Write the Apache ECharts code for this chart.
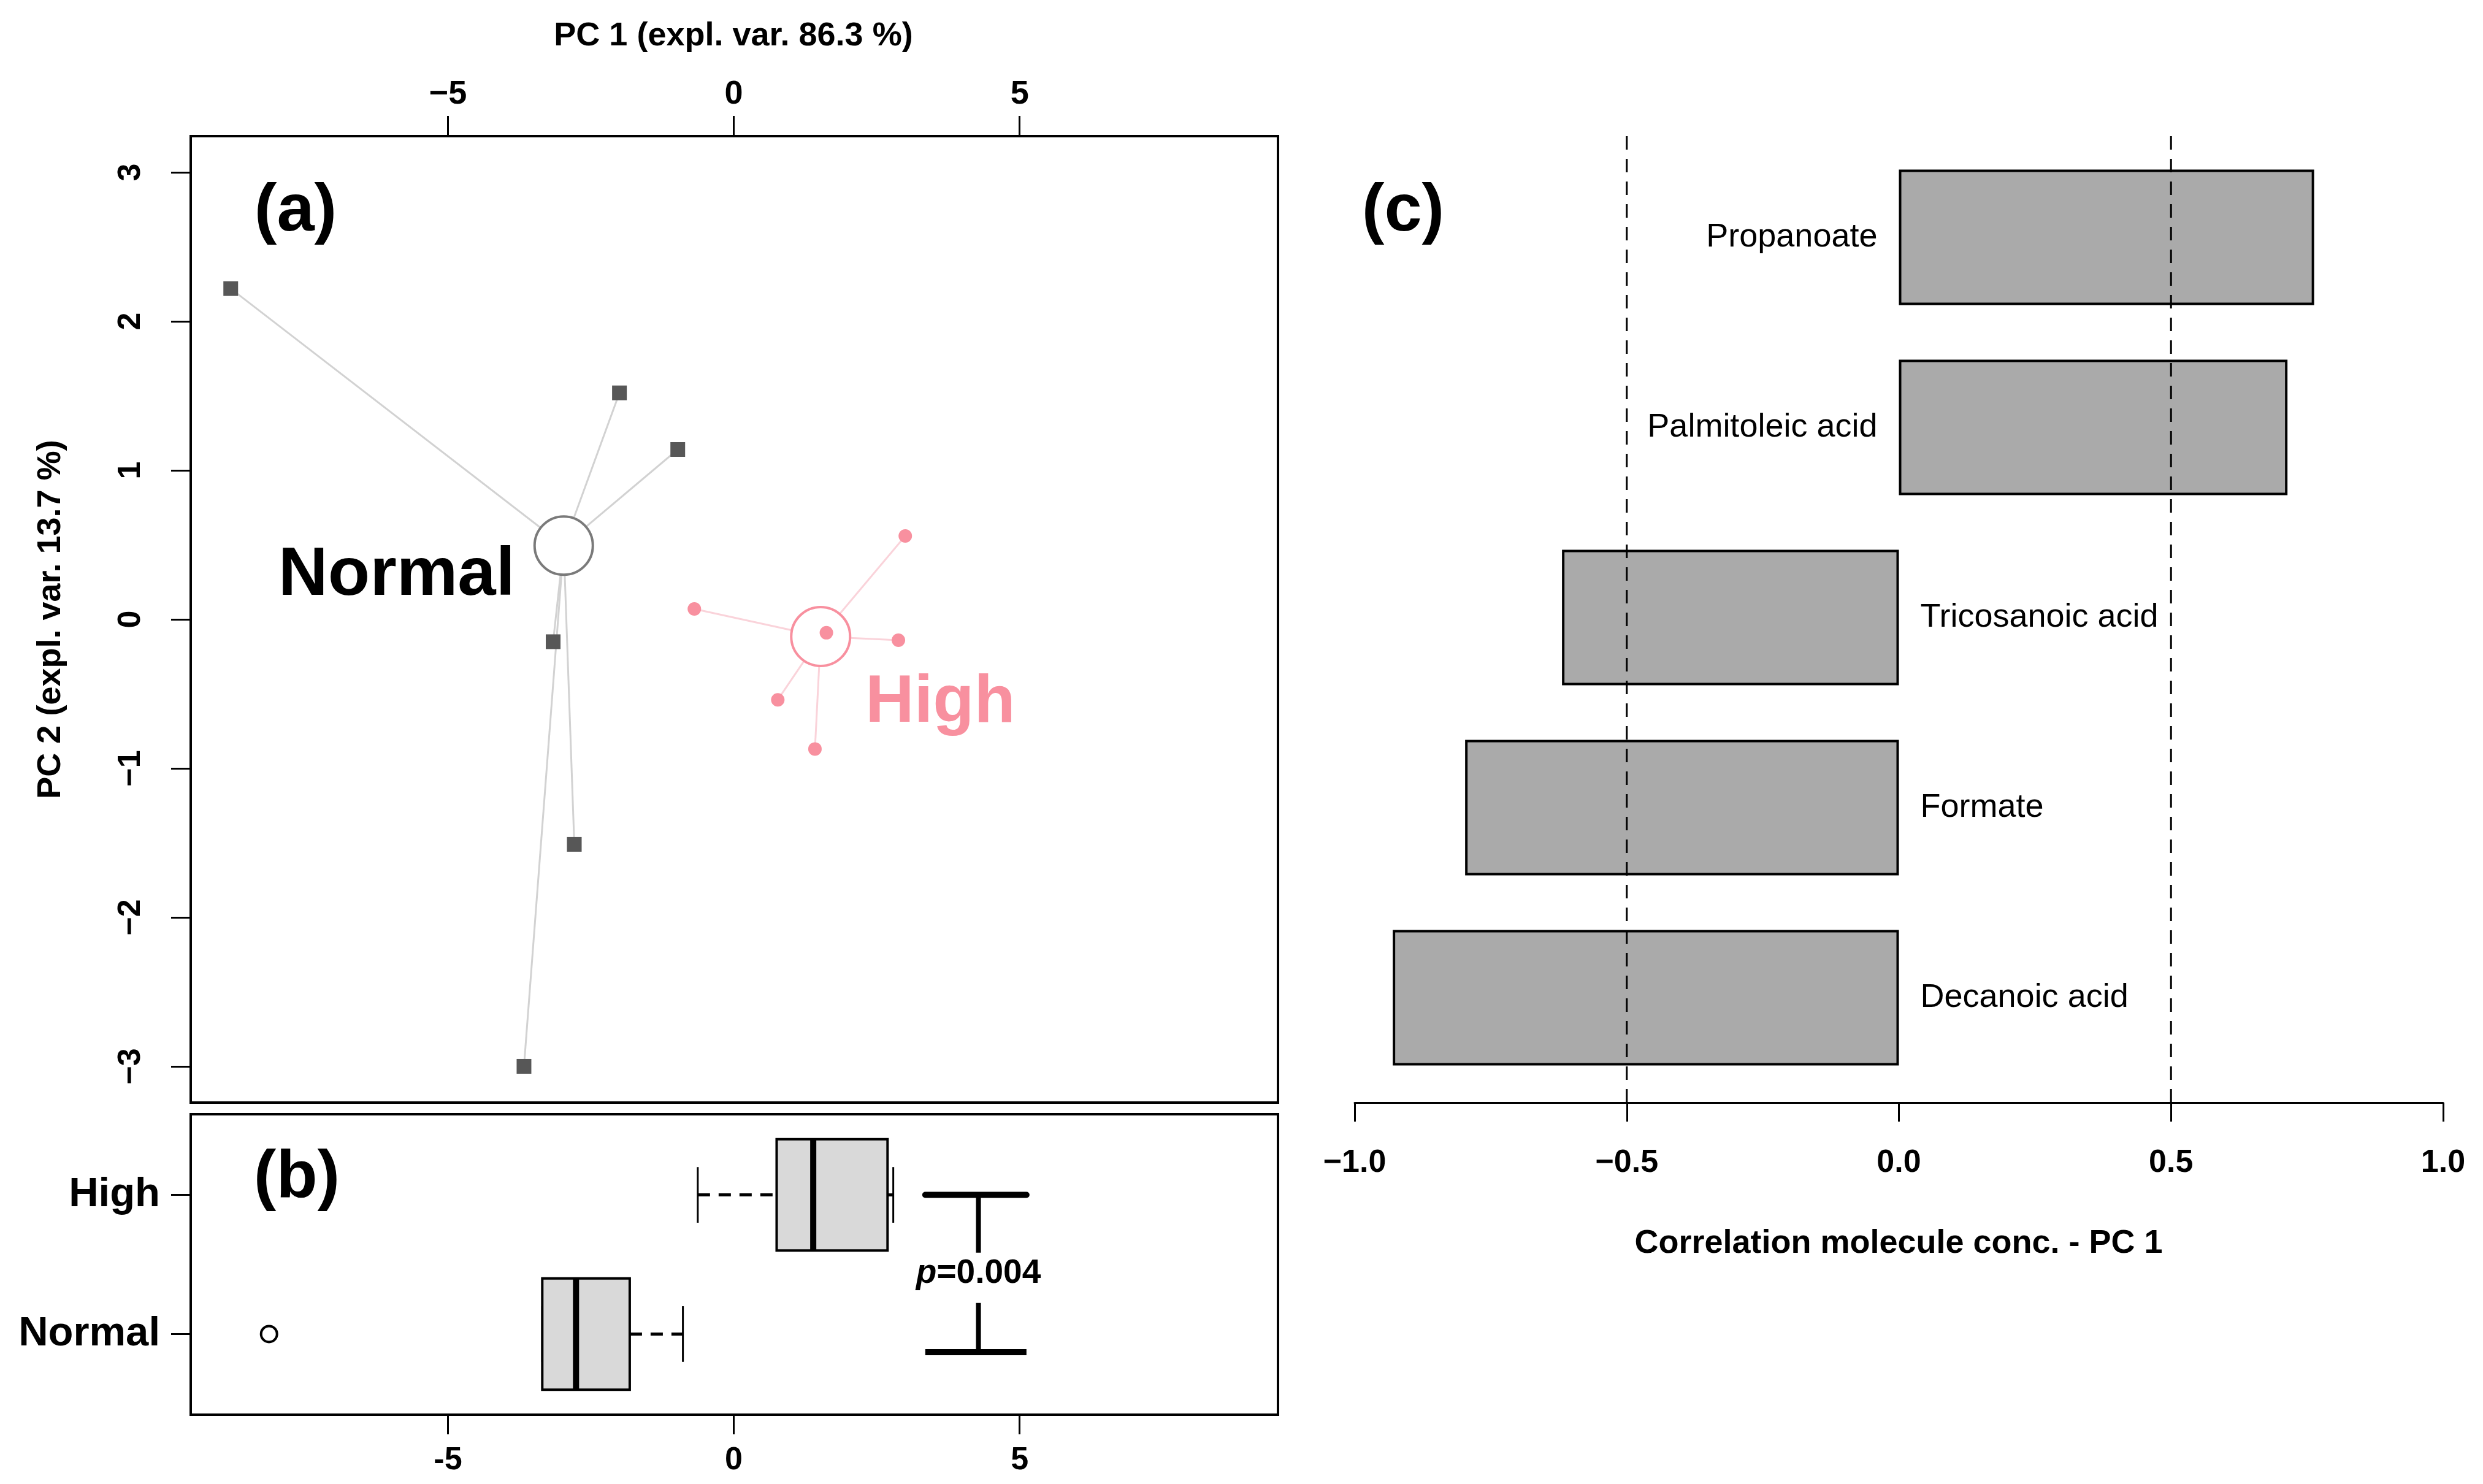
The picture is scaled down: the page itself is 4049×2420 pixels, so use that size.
<!DOCTYPE html>
<html><head><meta charset="utf-8">
<script src="https://cdn.jsdelivr.net/npm/echarts@6/dist/echarts.min.js"></script>
<style>html,body{margin:0;padding:0;background:#fff}#c{width:4049px;height:2420px}</style>
</head><body><div id="c"></div><script>
// ---------- Panel (a): PCA scores ----------
const normalPC1 = [-8.80, -2.00, -0.98, -3.16, -2.79, -3.67];
const normalPC2 = [2.22, 1.52, 1.14, -0.15, -1.51, -3.00];
const highPC1 = [3.00, -0.69, 1.62, 2.88, 0.77, 1.42];
const highPC2 = [0.56, 0.07, -0.09, -0.14, -0.54, -0.87];
const pcaTicksX = [-5, 0, 5];
const pcaTicksY = [-3, -2, -1, 0, 1, 2, 3];
const pcaTitleX = 'PC 1 (expl. var. 86.3 %)';
const pcaTitleY = 'PC 2 (expl. var. 13.7 %)';
// ---------- Panel (b): boxplot of PC 1 ----------
const boxGroups = ['Normal', 'High'];
const boxMin = [-3.35, -0.63];
const boxQ1 = [-3.35, 0.75];
const boxMedian = [-2.76, 1.39];
const boxQ3 = [-1.82, 2.69];
const boxMax = [-0.89, 2.79];
const boxOutlierX = [-8.13];
const boxOutlierGroup = ['Normal'];
const pBracketX = [3.35, 4.28, 5.12];
const pBracketY = [2.0, 0.87];
const pValue = '0.004';
// ---------- Panel (c): correlations ----------
const molecules = ['Propanoate', 'Palmitoleic acid', 'Tricosanoic acid', 'Formate', 'Decanoic acid'];
const correlations = [0.763, 0.714, -0.619, -0.797, -0.930];
const corrThresholds = [-0.5, 0.5];
const corrTitle = 'Correlation molecule conc. - PC 1';

const FF = '"Liberation Sans", Arial, sans-serif';
const PINK = '#F8909F';
const minus = v => (v < 0 ? '\u2212' : '') + Math.abs(v);
const minus1 = v => (v < 0 ? '\u2212' : '') + Math.abs(v).toFixed(1);
const median = arr => { const s = arr.slice().sort((a, b) => a - b); const n = s.length; return n % 2 ? s[(n - 1) / 2] : (s[n / 2 - 1] + s[n / 2]) / 2; };

const normalPts = normalPC1.map((x, i) => [x, normalPC2[i]]);
const highPts = highPC1.map((x, i) => [x, highPC2[i]]);
const normalCen = [median(normalPC1), median(normalPC2)];
const highCen = [median(highPC1), median(highPC2)];

const chart = echarts.init(document.getElementById('c'), null, { renderer: 'canvas' });

const tickStyle = { show: true, lineStyle: { color: '#000', width: 3 } };
const noLine = { show: false, onZero: false };
const boldLabel = (size) => ({ fontFamily: FF, fontWeight: 'bold', fontSize: size, color: '#000' });
const txt = (text, x, y, size, rot) => ({ type: 'text', x: x, y: y, rotation: rot || 0,
  style: { text: text, font: 'bold ' + size + 'px ' + FF, fill: '#000', align: 'center', verticalAlign: 'middle', textAlign: 'center', textVerticalAlign: 'middle' } });

const option = {
  animation: false,
  backgroundColor: '#fff',
  grid: [
    { left: 311, top: 222, width: 1773, height: 1576, show: true, borderColor: '#000', borderWidth: 4, backgroundColor: 'transparent' },
    { left: 311, top: 1817, width: 1773, height: 490, show: true, borderColor: '#000', borderWidth: 4, backgroundColor: 'transparent' },
    { left: 2209, top: 232, width: 1775, height: 1550 },
    { left: 2209, top: 219, width: 1775, height: 1579 }
  ],
  xAxis: [
    { gridIndex: 0, type: 'value', position: 'top', min: -9.5, max: 9.52,
      axisLine: noLine, splitLine: { show: false },
      axisTick: Object.assign({ customValues: pcaTicksX, length: 33 }, tickStyle),
      axisLabel: Object.assign({ customValues: pcaTicksX, margin: 41, formatter: minus }, boldLabel(54)) },
    { gridIndex: 1, type: 'value', position: 'bottom', min: -9.5, max: 9.52,
      axisLine: noLine, splitLine: { show: false },
      axisTick: Object.assign({ customValues: pcaTicksX, length: 32 }, tickStyle),
      axisLabel: Object.assign({ customValues: pcaTicksX, margin: 49, formatter: v => String(v) }, boldLabel(52)) },
    { gridIndex: 2, type: 'value', min: -1, max: 1, show: false, axisLine: noLine },
    { gridIndex: 3, type: 'value', position: 'bottom', min: -1, max: 1, interval: 0.5,
      axisLine: { show: true, onZero: false, lineStyle: { color: '#000', width: 3 } }, splitLine: { show: false },
      axisTick: Object.assign({ length: 31 }, tickStyle),
      axisLabel: Object.assign({ margin: 73, formatter: minus1, showMinLabel: true, showMaxLabel: true }, boldLabel(52)) }
  ],
  yAxis: [
    { gridIndex: 0, type: 'value', position: 'left', min: -3.243, max: 3.243,
      axisLine: noLine, splitLine: { show: false },
      axisTick: Object.assign({ customValues: pcaTicksY, length: 32 }, tickStyle),
      axisLabel: Object.assign({ customValues: pcaTicksY, margin: 71, rotate: 90, formatter: minus }, boldLabel(52)) },
    { gridIndex: 1, type: 'value', position: 'left', min: 0.42, max: 2.58,
      axisLine: noLine, splitLine: { show: false },
      axisTick: Object.assign({ customValues: [1, 2], length: 32 }, tickStyle),
      axisLabel: Object.assign({ customValues: [1, 2], margin: 50, formatter: v => boxGroups[Math.round(v) - 1] }, boldLabel(67)) },
    { gridIndex: 2, type: 'category', data: molecules, inverse: true, show: false, axisLine: noLine },
    { gridIndex: 3, type: 'value', min: 0, max: 1, show: false, axisLine: noLine }
  ],
  graphic: [
    txt(pcaTitleX, 1196, 59, 54),
    txt(pcaTitleY, 83, 1010, 54, Math.PI / 2),
    txt(corrTitle, 3096, 2028, 54),
    txt('(a)', 482, 346, 110),
    txt('(b)', 484, 1922, 110),
    txt('(c)', 2288, 346, 110)
  ],
  series: [
    // spider lines
    { type: 'lines', coordinateSystem: 'cartesian2d', xAxisIndex: 0, yAxisIndex: 0, z: 1,
      lineStyle: { color: '#d2d2d2', width: 3, opacity: 1 },
      data: normalPts.map(p => ({ coords: [normalCen, p] })) },
    { type: 'lines', coordinateSystem: 'cartesian2d', xAxisIndex: 0, yAxisIndex: 0, z: 1,
      lineStyle: { color: '#FAD3DA', width: 3, opacity: 1 },
      data: highPts.map(p => ({ coords: [highCen, p] })) },
    // centroids
    { type: 'scatter', xAxisIndex: 0, yAxisIndex: 0, z: 2, symbol: 'circle', symbolSize: 95,
      itemStyle: { color: '#fff', borderColor: '#7a7a7a', borderWidth: 4, opacity: 1 },
      label: { show: true, formatter: boxGroups[0], position: 'left', distance: 30, offset: [0, 49], fontFamily: FF, fontWeight: 'bold', fontSize: 112, color: '#000', opacity: 1 },
      data: [normalCen] },
    { type: 'scatter', xAxisIndex: 0, yAxisIndex: 0, z: 2, symbol: 'circle', symbolSize: 96,
      itemStyle: { color: '#fff', borderColor: PINK, borderWidth: 4, opacity: 1 },
      label: { show: true, formatter: boxGroups[1], position: 'right', distance: 23, offset: [0, 109], fontFamily: FF, fontWeight: 'bold', fontSize: 110, color: PINK, opacity: 1 },
      data: [highCen] },
    // points
    { type: 'scatter', xAxisIndex: 0, yAxisIndex: 0, z: 3, symbol: 'rect', symbolSize: 24,
      itemStyle: { color: '#575757', opacity: 1 }, data: normalPts },
    { type: 'scatter', xAxisIndex: 0, yAxisIndex: 0, z: 3, symbol: 'circle', symbolSize: 22,
      itemStyle: { color: PINK, opacity: 1 }, data: highPts },
    // boxplot (R style)
    { type: 'custom', xAxisIndex: 1, yAxisIndex: 1, z: 3,
      encode: { x: [1, 2, 3, 4, 5], y: 0 },
      data: boxGroups.map((g, i) => [i + 1, boxMin[i], boxQ1[i], boxMedian[i], boxQ3[i], boxMax[i]]),
      renderItem: (params, api) => {
        const pos = api.value(0);
        const pMin = api.coord([api.value(1), pos]);
        const pQ1 = api.coord([api.value(2), pos]);
        const pMd = api.coord([api.value(3), pos]);
        const pQ3 = api.coord([api.value(4), pos]);
        const pMax = api.coord([api.value(5), pos]);
        const half = api.size([0, 0.4])[1];
        const st = half / 2;
        const cy = pMd[1];
        const ch = [
          { type: 'line', shape: { x1: pMin[0], y1: cy, x2: pQ1[0], y2: cy }, style: { stroke: '#000', lineWidth: 5, lineDash: [20, 14] } },
          { type: 'line', shape: { x1: pQ3[0], y1: cy, x2: pMax[0], y2: cy }, style: { stroke: '#000', lineWidth: 5, lineDash: [20, 14] } },
          { type: 'line', shape: { x1: pMin[0], y1: cy - st, x2: pMin[0], y2: cy + st }, style: { stroke: '#000', lineWidth: 3 } },
          { type: 'line', shape: { x1: pMax[0], y1: cy - st, x2: pMax[0], y2: cy + st }, style: { stroke: '#000', lineWidth: 3 } },
          { type: 'rect', shape: { x: pQ1[0], y: cy - half, width: pQ3[0] - pQ1[0], height: 2 * half }, style: { fill: '#d9d9d9', stroke: '#000', lineWidth: 4 } },
          { type: 'line', shape: { x1: pMd[0], y1: cy - half, x2: pMd[0], y2: cy + half }, style: { stroke: '#000', lineWidth: 10 } }
        ];
        return { type: 'group', children: ch };
      } },
    { type: 'scatter', xAxisIndex: 1, yAxisIndex: 1, z: 3, symbol: 'circle', symbolSize: 26,
      itemStyle: { color: 'transparent', borderColor: '#000', borderWidth: 4, opacity: 1 },
      data: boxOutlierX.map((x, i) => [x, boxGroups.indexOf(boxOutlierGroup[i]) + 1]) },
    // p-value bracket
    { type: 'custom', xAxisIndex: 1, yAxisIndex: 1, z: 3,
      encode: { x: [0, 1, 2], y: [3, 4] },
      data: [[pBracketX[0], pBracketX[1], pBracketX[2], pBracketY[0], pBracketY[1]]],
      renderItem: (params, api) => {
        const l = api.coord([api.value(0), api.value(3)]);
        const m = api.coord([api.value(1), api.value(3)]);
        const r = api.coord([api.value(2), api.value(3)]);
        const bl = api.coord([api.value(0), api.value(4)]);
        const bm = api.coord([api.value(1), api.value(4)]);
        const br = api.coord([api.value(2), api.value(4)]);
        const midY = (m[1] + bm[1]) / 2;
        return { type: 'group', children: [
          { type: 'line', shape: { x1: l[0], y1: l[1], x2: r[0], y2: r[1] }, style: { stroke: '#000', lineWidth: 10, lineCap: 'round' } },
          { type: 'line', shape: { x1: m[0], y1: m[1], x2: m[0], y2: midY - 34 }, style: { stroke: '#000', lineWidth: 8 } },
          { type: 'line', shape: { x1: bm[0], y1: midY + 48, x2: bm[0], y2: bm[1] }, style: { stroke: '#000', lineWidth: 8 } },
          { type: 'line', shape: { x1: bl[0], y1: bl[1], x2: br[0], y2: br[1] }, style: { stroke: '#000', lineWidth: 10 } },
          { type: 'text', x: m[0], y: midY, style: { text: '{i|p}=' + pValue, fill: '#000', font: 'bold 55px ' + FF,
              align: 'center', verticalAlign: 'middle', textAlign: 'center', textVerticalAlign: 'middle',
              rich: { i: { fontStyle: 'italic', fontWeight: 'bold', fontSize: 55, fontFamily: FF, fill: '#000' } } } }
        ] };
      } },
    // panel (c) bars
    { type: 'bar', xAxisIndex: 2, yAxisIndex: 2, z: 2, barWidth: 221,
      itemStyle: { color: '#aaaaaa', borderColor: '#000', borderWidth: 4 },
      label: { show: true, formatter: p => p.name, distance: 35, fontFamily: FF, fontSize: 54, color: '#000' },
      data: correlations.map(v => ({ value: v, label: { position: v >= 0 ? 'left' : 'right' } })) },
    ...corrThresholds.map(t => ({ type: 'line', xAxisIndex: 3, yAxisIndex: 3, z: 5, symbol: 'none', silent: true,
      lineStyle: { color: '#000', width: 3, type: [22, 15] }, data: [[t, 0], [t, 1]] }))
  ]
};
chart.setOption(option);
</script></body></html>
